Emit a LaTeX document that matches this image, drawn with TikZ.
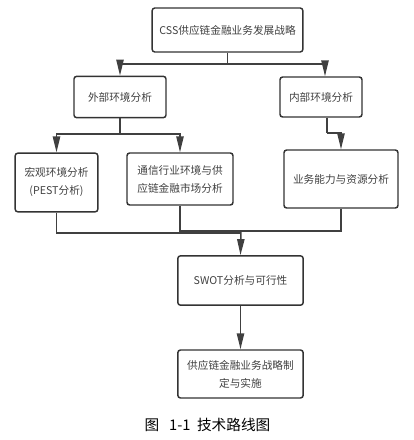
\documentclass[tikz,border=0pt]{standalone}
\usepackage{fontspec}
\setmainfont{Noto Sans CJK SC}
\usetikzlibrary{arrows.meta}

\tikzset{
  paso/.style={draw=black!80, line width=1.1pt, rounded corners=2pt,
    align=center, text=black!75, font=\fontsize{8}{13.5}\selectfont, inner sep=1pt},
  flecha/.style={draw=black!75, line width=1.1pt,
    -{Triangle[width=5.5pt,length=12pt]}},
  linea/.style={draw=black!75, line width=1.1pt}
}

\begin{document}
\begin{tikzpicture}[x=0.75pt,y=-0.75pt]
    % Marco de la figura (en pixeles de la referencia).
    \useasboundingbox (0,0) rectangle (414,440);

    % Cajas del diagrama.
    \node[paso, minimum width=113pt, minimum height=33pt] (top) at (227.5,30) {CSS供应链金融业务发展战略};
    \node[paso, minimum width=69pt, minimum height=31pt] (ext) at (120,97) {外部环境分析};
    \node[paso, minimum width=61.5pt, minimum height=30pt] (int) at (321,97) {内部环境分析};
    \node[paso, minimum width=62pt, minimum height=44pt] (macro) at (56.5,182.5) {宏观环境分析\\(PEST分析)};
    \node[paso, minimum width=79.5pt, minimum height=39pt] (comm) at (180,179) {通信行业环境与供\\应链金融市场分析};
    \node[paso, minimum width=85.5pt, minimum height=43.5pt] (ability) at (341,179) {业务能力与资源分析};
    \node[paso, minimum width=94pt, minimum height=37pt] (swot) at (240.5,280.5) {SWOT分析与可行性};
    \node[paso, minimum width=94pt, minimum height=36pt] (plan) at (240.5,374) {供应链金融业务战略制\\定与实施};

    % Puntos de union de las lineas.
    \coordinate (j1) at (227.5,64);
    \coordinate (j2) at (120,134);
    \coordinate (j3) at (327,133);
    \coordinate (j4) at (241,233);
    \coordinate (j5) at (241,231);

    % Conectores.
    \draw[linea] (top.south) -- (j1);
    \draw[flecha] (j1) -| (ext.north);
    \draw[flecha] (j1) -| (int.north -| 325,0);
    \draw[linea] (ext.south) -- (j2);
    \draw[flecha] (j2) -| (macro.north);
    \draw[flecha] (j2) -| (comm.north);
    \draw[linea] (int.south -| j3) -- (j3);
    \draw[flecha] (j3) -| (ability.north);
    \draw[linea] (macro.south) |- (j4);
    \draw[linea] (comm.south) |- (j5);
    \draw[linea] (ability.south) |- (j5);
    \draw[flecha] (j5) -- (swot.north);
    \draw[flecha] (swot.south) -- (plan.north);

    % Titulo de la figura.
    \node[font=\fontsize{11}{13}\selectfont] (cap) at (207.5,425) {图\ \ \ 1-1\ \ 技术路线图};
\end{tikzpicture}
\end{document}
